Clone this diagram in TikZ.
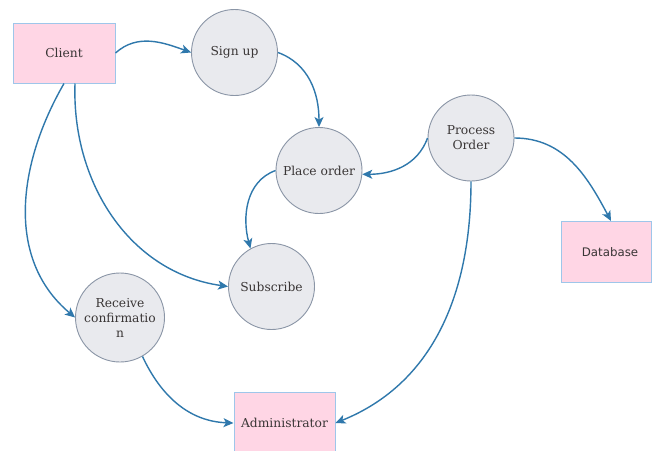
\documentclass[tikz,border=0pt]{standalone}
\usepackage{fontspec}
\setmainfont{DejaVu Serif}
\newfontfamily\dbfont{DejaVu Sans}
\usetikzlibrary{arrows.meta}
\definecolor{procfill}{HTML}{E9EAEE}
\definecolor{procdraw}{HTML}{8A95A6}
\definecolor{entfill}{HTML}{FFD6E5}
\definecolor{entdraw}{HTML}{9EC6EA}
\definecolor{flowc}{HTML}{2F78AC}
\definecolor{txt}{HTML}{3A3636}
\begin{document}
\begin{tikzpicture}[x=1pt,y=-1pt,
  proc/.style={circle,draw=procdraw,fill=procfill,line width=0.9pt,minimum size=86pt,inner sep=0pt,align=center,text=txt,font=\fontsize{12.3}{15}\selectfont},
  ent/.style={rectangle,draw=entdraw,fill=entfill,line width=1pt,inner sep=0pt,text=txt,font=\fontsize{12.3}{15}\selectfont},
  flow/.style={draw=flowc,line width=1.4pt,-{Stealth[length=10pt,width=9pt,inset=2.5pt]}}]
\useasboundingbox[fill=white] (0,0) rectangle (653,450);
\node[ent,minimum width=102pt,minimum height=60pt] (client) at (64,53) {Client};
\node[proc] (signup) at (234.5,52.5) {Sign up};
\node[proc] (place) at (319,170.5) {Place order};
\node[proc] (process) at (471,138) {Process\\Order};
\node[proc] (subscribe) at (271.5,286.5) {Subscribe};
\node[proc,minimum size=89pt] (receive) at (120,317.5) {Receive\\confirmatio\\n};
\node[ent,minimum width=101pt,minimum height=62pt] (admin) at (284.5,423) {Administrator};
\node[ent,minimum width=90pt,minimum height=61pt,font=\dbfont\fontsize{11.8}{14}\selectfont] (db) at (606,252) {\hspace*{8pt}Database};

\draw[flow] (client.east) to[out=42,in=160] (signup.west);
\draw[flow] (signup.east) to[out=-20,in=90] (place.north);
\draw[flow] (process.west) to[out=250,in=0] (place.-5);
\draw[flow] (place.west) to[out=200,in=105] (subscribe.119);
\draw[flow] ([xshift=11pt]client.south) to[out=268,in=172] (subscribe.west);
\draw[flow] (client.south) to[out=240,in=140] (receive.west);
\draw[flow] (receive.-60) to[out=-65,in=178] (admin.west);
\draw[flow] (process.south) to[out=270,in=22] (admin.east);
\draw[flow] (process.east) to[out=0,in=118] ([xshift=5pt]db.north);
\end{tikzpicture}
\end{document}
